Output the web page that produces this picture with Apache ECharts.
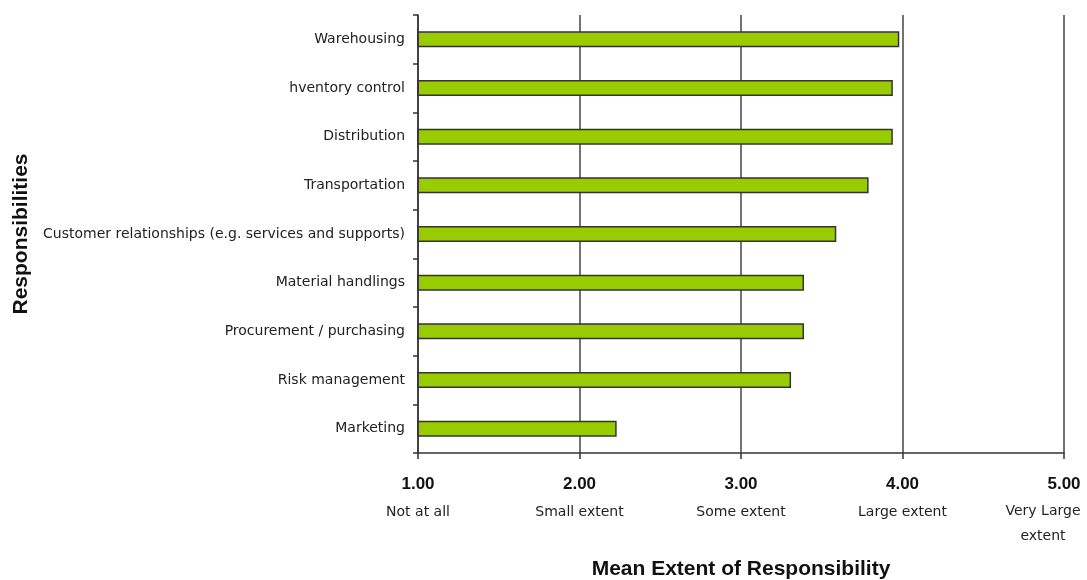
<!DOCTYPE html>
<html>
<head>
<meta charset="utf-8">
<script src="https://cdn.jsdelivr.net/npm/echarts@6/dist/echarts.min.js"></script>
<style>
  html, body { margin: 0; padding: 0; background: #ffffff; }
  #chart { width: 1087px; height: 580px; }
</style>
</head>
<body>
<div id="chart"></div>
<script>
// Responsibilities (top to bottom) and their mean extent scores
const responsibilities = [
  'Warehousing',
  'hventory control',
  'Distribution',
  'Transportation',
  'Customer relationships (e.g. services and supports)',
  'Material handlings',
  'Procurement / purchasing',
  'Risk management',
  'Marketing'
];
const meanExtent = [3.98, 3.94, 3.94, 3.79, 3.59, 3.39, 3.39, 3.31, 2.23];

// Scale ticks and their verbal anchors
const scaleValues = [1, 2, 3, 4, 5];
const scaleAnchors = ['Not at all', 'Small extent', 'Some extent', 'Large extent', 'Very Large\nextent'];

const chart = echarts.init(document.getElementById('chart'));

function tickLabel(value) {
  const i = scaleValues.indexOf(value);
  if (i < 0) return '';
  const num = '{v|' + value.toFixed(2) + '}';
  const lines = scaleAnchors[i].split('\n');
  const style = i === scaleValues.length - 1 ? 'e' : 's';
  return num + '\n' + lines.map(l => '{' + style + '|' + l + '}').join('\n');
}

chart.setOption({
  animation: false,
  backgroundColor: '#ffffff',
  grid: { left: 418, right: 23, top: 15, bottom: 127, containLabel: false, outerBoundsMode: 'none' },
  xAxis: {
    type: 'value',
    min: 1,
    max: 5,
    interval: 1,
    name: 'Mean Extent of Responsibility',
    nameLocation: 'middle',
    nameGap: 106,
    nameTextStyle: {
      fontFamily: 'Liberation Sans', fontWeight: 'bold', fontSize: 21, color: '#111'
    },
    axisLine: { show: true, lineStyle: { color: '#333', width: 1.5 } },
    axisTick: { show: true, length: 6, lineStyle: { color: '#333', width: 1.5 } },
    splitLine: { show: true, lineStyle: { color: '#444', width: 1.5 } },
    axisLabel: {
      margin: 17,
      formatter: tickLabel,
      rich: {
        v: { fontFamily: 'Liberation Sans', fontWeight: 'bold', fontSize: 17, lineHeight: 29, color: '#111', align: 'center' },
        s: { fontFamily: 'DejaVu Sans', fontSize: 14, lineHeight: 27, color: '#222', align: 'center' },
        e: { fontFamily: 'DejaVu Sans', fontSize: 14, lineHeight: 25, color: '#222', align: 'center', padding: [0, 42, 0, 0] }
      }
    }
  },
  yAxis: {
    type: 'category',
    inverse: true,
    data: responsibilities,
    z: 3,
    name: 'Responsibilities',
    nameLocation: 'middle',
    nameGap: 384,
    nameRotate: 90,
    nameTextStyle: {
      fontFamily: 'Liberation Sans', fontWeight: 'bold', fontSize: 21, color: '#111'
    },
    axisLine: { show: true, lineStyle: { color: '#333', width: 1.5 } },
    axisTick: { show: true, length: 5, lineStyle: { color: '#333', width: 1.5 } },
    axisLabel: {
      margin: 13,
      fontFamily: 'DejaVu Sans',
      fontSize: 14,
      color: '#222'
    },
    splitLine: { show: false }
  },
  series: [{
    type: 'bar',
    data: meanExtent,
    barWidth: 16,
    clip: true,
    itemStyle: { color: '#99cc00', borderColor: '#333', borderWidth: 1.5 }
  }]
});
</script>
</body>
</html>
